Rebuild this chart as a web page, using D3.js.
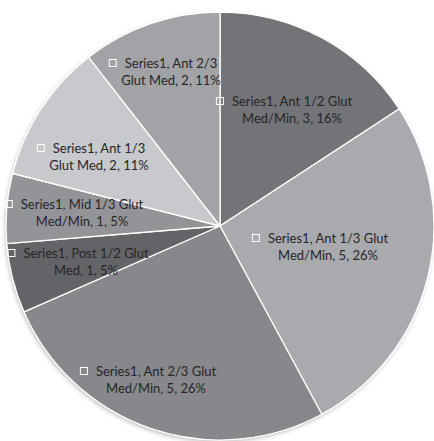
<!DOCTYPE html>
<html>
<head>
<meta charset="utf-8">
<script src="https://cdn.jsdelivr.net/npm/d3@7"></script>
<style>
    body { margin: 0; background: #fff; }
    svg { display: block; }
    text { font-family: Lato, "Open Sans", sans-serif; font-size: 13px; fill: #262626; }
</style>
</head>
<body>
<div id="chart"></div>
<script>
let categories = ['Ant 1/2 Glut Med/Min', 'Ant 1/3 Glut Med/Min', 'Ant 2/3 Glut Med/Min',
    'Post 1/2 Glut Med', 'Mid 1/3 Glut Med/Min', 'Ant 1/3 Glut Med', 'Ant 2/3 Glut Med'];
let values = [3, 5, 5, 1, 1, 2, 2];
let percents = ['16%', '26%', '26%', '5%', '5%', '11%', '11%'];
let colors = ['#737478', '#a9aaae', '#87888c', '#636468', '#939498', '#c8c9cc', '#a2a3a7'];

/* Label lines as Excel wrapped them */
let labelLines = [
    ['Series1, Ant 1/2 Glut', 'Med/Min, 3, 16%'],
    ['Series1, Ant 1/3 Glut', 'Med/Min, 5, 26%'],
    ['Series1, Ant 2/3 Glut', 'Med/Min, 5, 26%'],
    ['Series1, Post 1/2 Glut', 'Med, 1, 5%'],
    ['Series1, Mid 1/3 Glut', 'Med/Min, 1, 5%'],
    ['Series1, Ant 1/3', 'Glut Med, 2, 11%'],
    ['Series1, Ant 2/3', 'Glut Med, 2, 11%']
];
/* Label block centres (text centre, first line middle) */
let labelAt = [[292, 101], [328, 238], [156, 371], [86, 253], [82, 204], [99, 148], [171, 63]];

let width = 434, height = 441;
let cx = 220, cy = 226, r = 214;

let svg = d3.select('#chart').append('svg')
    .attr('width', width)
    .attr('height', height);

let defs = svg.append('defs');
let shadow = defs.append('filter').attr('id', 'shadow')
    .attr('x', '-10%').attr('y', '-10%').attr('width', '120%').attr('height', '120%');
shadow.append('feDropShadow')
    .attr('dx', -1).attr('dy', 2).attr('stdDeviation', 2)
    .attr('flood-color', '#000').attr('flood-opacity', 0.25);

let pie = d3.pie().sort(null).value(d => d);
let arc = d3.arc().innerRadius(0).outerRadius(r);

let g = svg.append('g').attr('transform', `translate(${cx},${cy})`);

g.append('circle').attr('r', r).attr('fill', '#fff').attr('filter', 'url(#shadow)');

g.selectAll('path.slice')
    .data(pie(values))
    .enter()
    .append('path')
    .attr('class', 'slice')
    .attr('d', arc)
    .attr('fill', (d, i) => colors[i])
    .attr('stroke', '#fff')
    .attr('stroke-width', 1.3);

let labels = svg.selectAll('g.label')
    .data(labelLines)
    .enter()
    .append('g')
    .attr('class', 'label')
    .attr('transform', (d, i) => `translate(${labelAt[i][0]},${labelAt[i][1]})`);

labels.each(function(lines) {
    let lg = d3.select(this);
    let t = lg.append('text').attr('text-anchor', 'middle');
    lines.forEach((line, j) => {
        t.append('tspan')
            .attr('x', 0)
            .attr('y', j * 17.5)
            .attr('dy', '0.35em')
            .text(line);
    });
    let w = t.select('tspan').node().getComputedTextLength();
    lg.append('rect')
        .attr('x', -w / 2 - 12 - 3.5)
        .attr('y', -3.5)
        .attr('width', 7)
        .attr('height', 7)
        .attr('fill', 'none')
        .attr('stroke', '#fff')
        .attr('stroke-width', 1);
});
</script>
</body>
</html>
